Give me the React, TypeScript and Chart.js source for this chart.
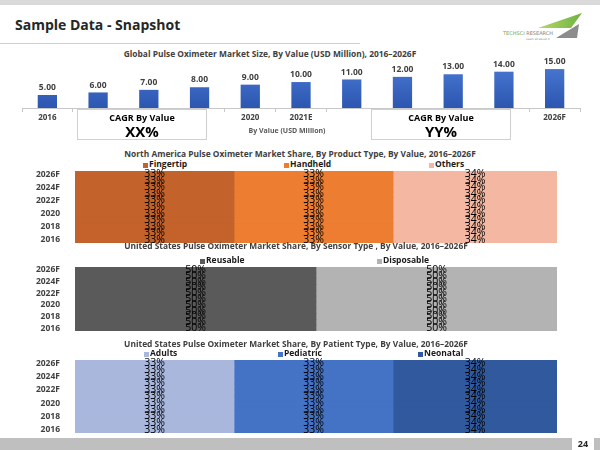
import React, { useEffect, useRef } from 'react';
import { Chart, registerables } from 'chart.js';

Chart.register(...registerables);

// ---------- data ----------
const marketYears = ['2016', '2017', '2018', '2019', '2020', '2021E', '2022F', '2023F', '2024F', '2025F', '2026F'];
const marketTickLabels = ['2016', '', '', '', '2020', '2021E', '', '', '', '', '2026F'];
const marketValues = [5, 6, 7, 8, 9, 10, 11, 12, 13, 14, 15];

const shareYears = ['2016', '2017', '2018', '2019', '2020', '2021E', '2022F', '2023F', '2024F', '2025F', '2026F'];
const fingertipShare = [33, 33, 33, 33, 33, 33, 33, 33, 33, 33, 33];
const handheldShare = [33, 33, 33, 33, 33, 33, 33, 33, 33, 33, 33];
const othersShare = [34, 34, 34, 34, 34, 34, 34, 34, 34, 34, 34];

const reusableShare = [50, 50, 50, 50, 50, 50, 50, 50, 50, 50, 50];
const disposableShare = [50, 50, 50, 50, 50, 50, 50, 50, 50, 50, 50];

const adultsShare = [33, 33, 33, 33, 33, 33, 33, 33, 33, 33, 33];
const pediatricShare = [33, 33, 33, 33, 33, 33, 33, 33, 33, 33, 33];
const neonatalShare = [34, 34, 34, 34, 34, 34, 34, 34, 34, 34, 34];

const FONT = '"Open Sans"';
const TEXT = '#404040';

// ---------- plugins ----------
const valueLabelPlugin = {
  id: 'valueLabels',
  afterDatasetsDraw(chart: any) {
    const ctx = chart.ctx;
    ctx.save();
    ctx.font = `bold 8.5px ${FONT}`;
    ctx.fillStyle = TEXT;
    ctx.textAlign = 'center';
    ctx.textBaseline = 'bottom';
    chart.data.datasets.forEach((ds: any, di: number) => {
      chart.getDatasetMeta(di).data.forEach((el: any, i: number) => {
        ctx.fillText(Number(ds.data[i]).toFixed(2), el.x, el.y - 3);
      });
    });
    ctx.restore();
  },
};

const shareLabelPlugin = {
  id: 'shareLabels',
  afterDatasetsDraw(chart: any) {
    const ctx = chart.ctx;
    ctx.save();
    ctx.font = `10.5px ${FONT}`;
    ctx.fillStyle = '#000000';
    ctx.textAlign = 'center';
    ctx.textBaseline = 'middle';
    chart.data.datasets.forEach((ds: any, di: number) => {
      chart.getDatasetMeta(di).data.forEach((el: any, i: number) => {
        const p = el.getCenterPoint();
        ctx.fillText(ds.data[i] + '%', p.x, p.y);
      });
    });
    ctx.restore();
  },
};

// ---------- chart components ----------
function MarketChart() {
  const ref = useRef<HTMLCanvasElement>(null);
  useEffect(() => {
    const chart = new Chart(ref.current as HTMLCanvasElement, {
      type: 'bar',
      data: {
        labels: marketYears,
        datasets: [
          {
            label: 'By Value (USD Million)',
            data: marketValues,
            backgroundColor: (c: any) => {
              const area = c.chart.chartArea;
              if (!area) return '#3A66C4';
              const g = c.chart.ctx.createLinearGradient(0, area.top, 0, area.bottom);
              g.addColorStop(0, '#4B7BD6');
              g.addColorStop(1, '#2C56B0');
              return g;
            },
            borderWidth: 0,
            categoryPercentage: 1,
            barPercentage: 0.38,
          },
        ],
      },
      options: {
        responsive: false,
        animation: false,
        layout: { padding: { left: 22, right: 20, top: 2, bottom: 0 } },
        plugins: { legend: { display: false }, tooltip: { enabled: false } },
        scales: {
          x: {
            grid: { drawOnChartArea: false, drawTicks: true, tickLength: 4, color: '#c8c8c8', offset: true },
            border: { color: '#c8c8c8' },
            ticks: {
              autoSkip: false,
              maxRotation: 0,
              padding: 1,
              color: TEXT,
              font: { family: 'Open Sans', size: 8, weight: 'bold' },
              callback: (_v: any, i: number) => marketTickLabels[i],
            },
            afterFit: (s: any) => {
              s.height = 22;
              s.paddingLeft = 0;
              s.paddingRight = 0;
            },
          },
          y: { display: false, min: 0, max: 18.5 },
        },
      } as any,
      plugins: [valueLabelPlugin],
    } as any);
    return () => chart.destroy();
  }, []);
  return (
    <canvas
      ref={ref}
      width={600}
      height={72}
      style={{ position: 'absolute', left: 0, top: 58, width: 600, height: 72, display: 'block' }}
    />
  );
}

function ShareChart(props: { top: number; height: number; padTop: number; datasets: any[] }) {
  const ref = useRef<HTMLCanvasElement>(null);
  useEffect(() => {
    const chart = new Chart(ref.current as HTMLCanvasElement, {
      type: 'bar',
      data: {
        labels: shareYears,
        datasets: props.datasets.map((d) => ({
          ...d,
          borderWidth: 0,
          categoryPercentage: 1,
          barPercentage: 1,
        })),
      },
      options: {
        indexAxis: 'y',
        responsive: false,
        animation: false,
        layout: { padding: { left: 0, right: 43, top: props.padTop, bottom: 5 } },
        plugins: { legend: { display: false }, tooltip: { enabled: false } },
        scales: {
          x: { stacked: true, display: false, min: 0, max: 100 },
          y: {
            stacked: true,
            reverse: true,
            grid: { display: false },
            border: { display: false },
            ticks: {
              autoSkip: false,
              padding: 7,
              color: TEXT,
              font: { family: 'Open Sans', size: 8.5, weight: 'bold' },
              callback: (_v: any, i: number) => (i % 2 === 0 ? shareYears[i] : ''),
            },
            afterFit: (s: any) => {
              s.width = 75;
              s.paddingTop = 0;
              s.paddingBottom = 0;
            },
          },
        },
      } as any,
      plugins: [shareLabelPlugin],
    } as any);
    return () => chart.destroy();
  }, []);
  return (
    <canvas
      ref={ref}
      width={600}
      height={props.height}
      style={{ position: 'absolute', left: 0, top: props.top, width: 600, height: props.height, display: 'block' }}
    />
  );
}

// ---------- decoration helpers ----------
function ChartTitle(props: { text: string; cx: number; cy: number }) {
  return (
    <div
      style={{
        position: 'absolute',
        left: props.cx - 250,
        top: props.cy - 7,
        width: 500,
        height: 14,
        lineHeight: '14px',
        textAlign: 'center',
        font: `bold 8.4px ${FONT}`,
        color: TEXT,
        whiteSpace: 'nowrap',
      }}
    >
      {props.text}
    </div>
  );
}

function Legend(props: { cy: number; items: { x: number; color: string; label: string }[] }) {
  return (
    <>
      {props.items.map((it) => (
        <div key={it.label}>
          <div
            style={{
              position: 'absolute',
              left: it.x,
              top: props.cy - 2.5,
              width: 5,
              height: 5,
              background: it.color,
            }}
          />
          <div
            style={{
              position: 'absolute',
              left: it.x + 6,
              top: props.cy - 7,
              height: 14,
              lineHeight: '14px',
              font: `bold 8.5px ${FONT}`,
              color: '#1a1a1a',
              whiteSpace: 'nowrap',
            }}
          >
            {it.label}
          </div>
        </div>
      ))}
    </>
  );
}

function CagrBox(props: { left: number; width: number; value: string }) {
  return (
    <div
      style={{
        position: 'absolute',
        left: props.left,
        top: 109,
        width: props.width,
        height: 31,
        background: '#ffffff',
        border: '1px solid #d0d0d0',
        boxSizing: 'border-box',
        zIndex: 2,
        textAlign: 'center',
        fontFamily: FONT,
        color: '#000',
      }}
    >
      <div style={{ font: `bold 9px ${FONT}`, lineHeight: '12px', marginTop: 2 }}>CAGR By Value</div>
      <div style={{ font: `bold 15px ${FONT}`, lineHeight: '15px' }}>{props.value}</div>
    </div>
  );
}

export default function App() {
  return (
    <div
      style={{
        position: 'absolute',
        left: 0,
        top: 0,
        width: 600,
        height: 450,
        overflow: 'hidden',
        background: '#ffffff',
        fontFamily: FONT,
      }}
    >
      {/* top strip */}
      <div style={{ position: 'absolute', left: 0, top: 0, width: 600, height: 5, background: '#d9d9d9' }} />
      {/* header */}
      <div
        style={{
          position: 'absolute',
          left: 15,
          top: 15,
          height: 18,
          lineHeight: '18px',
          font: 'bold 14px "Open Sans"',
          color: '#262626',
          whiteSpace: 'nowrap',
        }}
      >
        Sample Data - Snapshot
      </div>
      <div style={{ position: 'absolute', left: 0, top: 43, width: 360, height: 1, background: '#cfcfcf' }} />
      {/* logo */}
      <svg style={{ position: 'absolute', left: 0, top: 0 }} width={600} height={50}>
        <defs>
          <linearGradient id="lg" x1="0" x2="1" y1="0" y2="0">
            <stop offset="0" stopColor="#b7d86a" />
            <stop offset="1" stopColor="#6db33f" />
          </linearGradient>
        </defs>
        <polygon points="538,28 582,13 571,28" fill="url(#lg)" />
        <polygon points="556,38 579,24 577,38" fill="#8c8c8c" />
        <text x={503} y={35} fontFamily="DejaVu Sans" fontSize={5} fill="#6aa84f">
          TECHSCI <tspan fill="#7f7f7f">RESEARCH</tspan>
        </text>
        <text x={526} y={40} fontFamily="DejaVu Sans" fontSize={2.8} fill="#7f7f7f">
          Learn all about it
        </text>
      </svg>

      {/* chart 1 */}
      <ChartTitle text="Global Pulse Oximeter Market  Size, By Value (USD Million), 2016–2026F" cx={270} cy={55} />
      <MarketChart />
      <CagrBox left={77} width={130} value="XX%" />
      <CagrBox left={371} width={140} value="YY%" />
      <div
        style={{
          position: 'absolute',
          left: 187,
          top: 126,
          width: 200,
          height: 14,
          lineHeight: '14px',
          textAlign: 'center',
          font: `bold 7px ${FONT}`,
          color: '#595959',
        }}
      >
        By Value (USD Million)
      </div>

      {/* chart 2 */}
      <ChartTitle text="North America Pulse Oximeter Market  Share, By Product Type, By Value, 2016–2026F" cx={300} cy={155} />
      <Legend
        cy={165}
        items={[
          { x: 143, color: '#C3622A', label: 'Fingertip' },
          { x: 284, color: '#ED7D31', label: 'Handheld' },
          { x: 429, color: '#F4B8A2', label: 'Others' },
        ]}
      />
      <ShareChart
        top={165}
        height={83}
        padTop={6}
        datasets={[
          { label: 'Fingertip', data: fingertipShare, backgroundColor: '#C3622A' },
          { label: 'Handheld', data: handheldShare, backgroundColor: '#ED7D31' },
          { label: 'Others', data: othersShare, backgroundColor: '#F4B8A2' },
        ]}
      />

      {/* chart 3 */}
      <ChartTitle text="United States Pulse Oximeter Market  Share, By Sensor Type , By Value, 2016–2026F" cx={296} cy={247} />
      <Legend
        cy={261}
        items={[
          { x: 200, color: '#5A5A5A', label: 'Reusable' },
          { x: 377, color: '#B3B3B3', label: 'Disposable' },
        ]}
      />
      <ShareChart
        top={262}
        height={74}
        padTop={5}
        datasets={[
          { label: 'Reusable', data: reusableShare, backgroundColor: '#5A5A5A' },
          { label: 'Disposable', data: disposableShare, backgroundColor: '#B3B3B3' },
        ]}
      />

      {/* chart 4 */}
      <ChartTitle text="United States Pulse Oximeter Market  Share, By Patient Type, By Value, 2016–2026F" cx={296} cy={345} />
      <Legend
        cy={354}
        items={[
          { x: 144, color: '#A9B7DD', label: 'Adults' },
          { x: 278, color: '#4472C4', label: 'Pediatric' },
          { x: 418, color: '#30599E', label: 'Neonatal' },
        ]}
      />
      <ShareChart
        top={355}
        height={83}
        padTop={5}
        datasets={[
          { label: 'Adults', data: adultsShare, backgroundColor: '#A9B7DD' },
          { label: 'Pediatric', data: pediatricShare, backgroundColor: '#4472C4' },
          { label: 'Neonatal', data: neonatalShare, backgroundColor: '#30599E' },
        ]}
      />

      {/* footer */}
      <div style={{ position: 'absolute', left: 0, top: 438, width: 572, height: 12, background: '#bfbfbf' }} />
      <div style={{ position: 'absolute', left: 594, top: 438, width: 6, height: 12, background: '#bfbfbf' }} />
      <div
        style={{
          position: 'absolute',
          left: 574,
          top: 437,
          width: 18,
          height: 12,
          lineHeight: '12px',
          textAlign: 'center',
          font: `bold 9px ${FONT}`,
          color: '#262626',
        }}
      >
        24
      </div>
    </div>
  );
}
